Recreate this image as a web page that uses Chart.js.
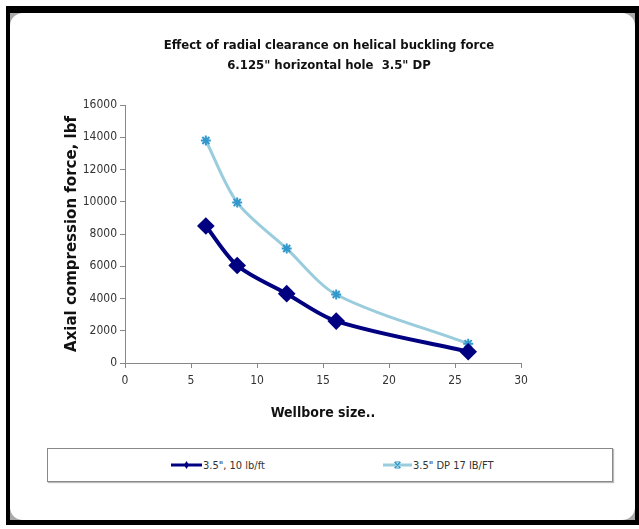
<!DOCTYPE html>
<html>
<head>
<meta charset="utf-8">
<script src="https://cdn.jsdelivr.net/npm/chart.js@4/dist/chart.umd.min.js"></script>
<style>
  body { margin: 0; background: #fff; width: 639px; height: 529px; position: relative; overflow: hidden; }
  .frame { position: absolute; left: 6px; top: 6px; width: 633px; height: 519px; background: #000; }
  .shade { position: absolute; left: 10px; top: 13px; width: 625px; height: 507px; background: #aaa; }
  .card { position: absolute; left: 10px; top: 13px; width: 625px; height: 507px; background: #fff; border-radius: 13px; }
  #chart { position: absolute; left: 0; top: 0; }
  .legend { position: absolute; left: 47px; top: 448px; width: 564px; height: 32px; border: 1px solid #888; box-shadow: 1px 1px 1px #bbb; background: #fff; }
  .item { position: absolute; top: 9px; height: 14px; display: flex; align-items: center; font: 11px "Liberation Sans Narrow", "DejaVu Sans Condensed", sans-serif; font-stretch: condensed; color: #333; }
  .item svg { margin-right: 1px; }
</style>
</head>
<body>
<div class="frame"></div>
<div class="shade"></div>
<div class="card"></div>
<div class="legend">
  <div class="item" style="left:123px">
    <svg width="31" height="12"><line x1="0" y1="6" x2="31" y2="6" stroke="#000080" stroke-width="3"/><polygon points="15.5,2 18,6 15.5,10 13,6" fill="#000080"/></svg>
    <span id="leg0"></span>
  </div>
  <div class="item" style="left:335px">
    <svg width="29" height="12"><line x1="0" y1="6" x2="29" y2="6" stroke="#99ccdd" stroke-width="3"/><path d="M11.5,3 L17.5,9 M17.5,3 L11.5,9 M12,3 L17,3 M12,9 L17,9" stroke="#3399cc" stroke-width="1.2"/></svg>
    <span id="leg1"></span>
  </div>
</div>
<canvas id="chart" width="639" height="445"></canvas>
<script>
// wellbore size (in) vs helical buckling force (lbf)
const wellboreSize = [6.125, 8.5, 12.25, 16, 26];
const force10lb = [8500, 6050, 4300, 2600, 700];
const force17lb = [13800, 9950, 7100, 4250, 1200];
const seriesNames = ['3.5", 10 lb/ft', '3.5" DP 17 IB/FT'];
const titleLines = ['Effect of radial clearance on helical buckling force', '6.125" horizontal hole  3.5" DP'];

const narrow = "'Liberation Sans Narrow', 'Arial Narrow', 'DejaVu Sans Condensed', sans-serif";

document.getElementById("leg0").textContent = seriesNames[0];
document.getElementById("leg1").textContent = seriesNames[1];

const ctx = document.getElementById("chart");
new Chart(ctx, {
  type: "line",
  data: {
    datasets: [
      {
        label: seriesNames[0],
        data: wellboreSize.map((x, i) => ({ x: x, y: force10lb[i] })),
        borderColor: "#000080",
        backgroundColor: "#000080",
        borderWidth: 4,
        tension: 0.3,
        pointStyle: "rectRot",
        pointRadius: 6,
        pointBackgroundColor: "#000080",
        pointBorderColor: "#000080",
      },
      {
        label: seriesNames[1],
        data: wellboreSize.map((x, i) => ({ x: x, y: force17lb[i] })),
        borderColor: "#99ccdd",
        backgroundColor: "#99ccdd",
        borderWidth: 3,
        tension: 0.3,
        pointStyle: "star",
        pointRadius: 5,
        pointBorderColor: "#3399cc",
        pointBorderWidth: 2,
      },
    ],
  },
  options: {
    responsive: false,
    animation: false,
    layout: { padding: { top: 30, left: 19, right: 0, bottom: 22 } },
    plugins: {
      legend: { display: false },
      tooltip: { enabled: false },
      title: {
        display: true,
        text: titleLines,
        color: "#111",
        font: { family: narrow, size: 13, weight: "bold", lineHeight: 1.54 },
        padding: { top: 6, bottom: 29 },
      },
    },
    scales: {
      x: {
        type: "linear",
        min: 0,
        max: 30,
        ticks: { stepSize: 5, color: "#333", padding: 6, font: { family: narrow, size: 12 } },
        grid: { drawOnChartArea: false, drawTicks: true, tickLength: 5, color: "#888" },
        border: { color: "#888" },
        title: { display: true, text: "Wellbore size..", color: "#111", font: { family: narrow, size: 14, weight: "bold" }, padding: { top: 0, bottom: 1 } },
        afterFit: (scale) => { scale.height = 60; },
      },
      y: {
        min: 0,
        max: 16000,
        ticks: { stepSize: 2000, color: "#333", padding: 3, font: { family: narrow, size: 12 }, callback: (v) => String(v) },
        grid: { drawOnChartArea: false, drawTicks: true, tickLength: 5, color: "#888" },
        border: { color: "#888" },
        title: { display: true, text: "Axial compression force, lbf", color: "#111", font: { family: "'DejaVu Sans', sans-serif", size: 15, weight: "bold" }, padding: { top: 44, bottom: 0 } },
        afterFit: (scale) => { scale.width = 106; },
      },
      y2: {
        position: "right",
        min: 0,
        max: 16000,
        ticks: { display: false },
        grid: { display: false },
        border: { display: false },
        afterFit: (scale) => { scale.width = 118; },
      },
    },
  },
});
</script>
</body>
</html>
